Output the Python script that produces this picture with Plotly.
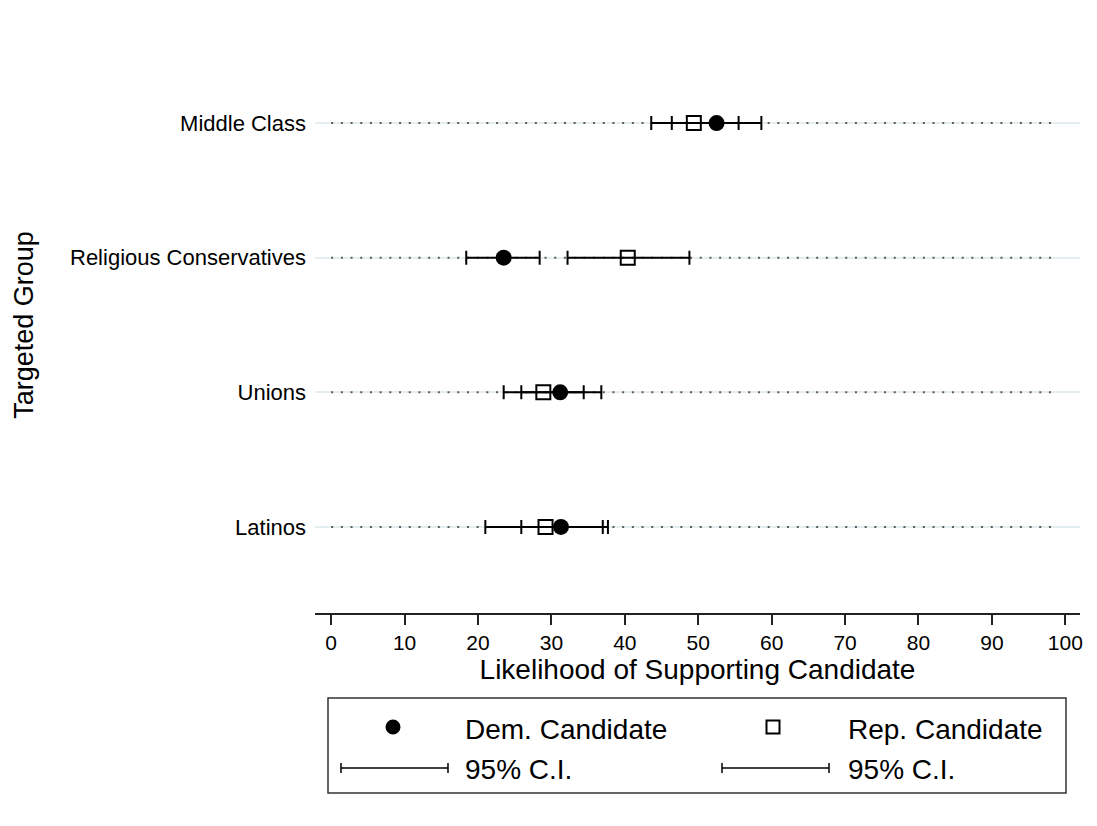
import plotly.graph_objects as go

# ---- data ----
groups = ["Middle Class", "Religious Conservatives", "Unions", "Latinos"]
group_pos = [4, 3, 2, 1]

dem = [52.5, 23.5, 31.2, 31.3]
dem_lo = [46.4, 18.4, 25.9, 25.9]
dem_hi = [58.6, 28.4, 36.8, 37.0]

rep = [49.4, 40.4, 28.9, 29.2]
rep_lo = [43.6, 32.2, 23.5, 21.0]
rep_hi = [55.5, 48.8, 34.4, 37.7]

x_ticks = list(range(0, 101, 10))
dot_span = [0, 99]

FONT = "Liberation Sans, Arial, Helvetica, sans-serif"

# page body adds an 8px offset; compensate
OFF = 8
W, H = 1097 - OFF, 826 - OFF
L, R, T, B = 315 - OFF, 17, 37 - OFF, 213
PW = W - L - R
PH = H - T - B


def px(x):
    return (x - OFF - L) / PW


def py(y):
    return (H - B - (y - OFF)) / PH


fig = go.Figure()

# dotted guide lines per group
for p in group_pos:
    fig.add_trace(go.Scatter(
        x=dot_span, y=[p, p], mode="lines",
        line=dict(color="#5a5a5a", width=2, dash="2px,7.7px"),
        hoverinfo="skip", showlegend=False))

# Rep candidate with CI
fig.add_trace(go.Scatter(
    x=rep, y=group_pos, mode="markers", name="Rep. Candidate",
    marker=dict(symbol="square-open", size=14, color="black",
                line=dict(width=2, color="black")),
    error_x=dict(type="data", symmetric=False,
                 array=[h - v for h, v in zip(rep_hi, rep)],
                 arrayminus=[v - l for v, l in zip(rep, rep_lo)],
                 color="black", thickness=2, width=7),
    showlegend=False))

# Dem candidate with CI
fig.add_trace(go.Scatter(
    x=dem, y=group_pos, mode="markers", name="Dem. Candidate",
    marker=dict(symbol="circle", size=16, color="black"),
    error_x=dict(type="data", symmetric=False,
                 array=[h - v for h, v in zip(dem_hi, dem)],
                 arrayminus=[v - l for v, l in zip(dem, dem_lo)],
                 color="black", thickness=2, width=7),
    showlegend=False))

shapes = []
annotations = []

# legend box
shapes.append(dict(type="rect", xref="paper", yref="paper",
                   x0=px(328), x1=px(1066), y0=py(793), y1=py(698),
                   line=dict(color="#333333", width=1.5), fillcolor="white"))
# dem marker
shapes.append(dict(type="circle", xref="paper", yref="paper",
                   x0=px(393 - 7.5), x1=px(393 + 7.5), y0=py(727 + 7.5), y1=py(727 - 7.5),
                   line=dict(color="black", width=0), fillcolor="black"))
# rep marker
shapes.append(dict(type="rect", xref="paper", yref="paper",
                   x0=px(773 - 6.5), x1=px(773 + 6.5), y0=py(727 + 6.5), y1=py(727 - 6.5),
                   line=dict(color="black", width=2), fillcolor="white"))
# CI keys
for x0, x1 in [(341, 448), (722, 829)]:
    shapes.append(dict(type="line", xref="paper", yref="paper",
                       x0=px(x0), x1=px(x1), y0=py(768), y1=py(768),
                       line=dict(color="black", width=1.5)))
    for xc in (x0, x1):
        shapes.append(dict(type="line", xref="paper", yref="paper",
                           x0=px(xc), x1=px(xc), y0=py(763), y1=py(773),
                           line=dict(color="black", width=1.5)))

for txt, x, y in [("Dem. Candidate", 463, 729), ("95% C.I.", 463, 769),
                  ("Rep. Candidate", 846, 729), ("95% C.I.", 846, 769)]:
    annotations.append(dict(text=txt, xref="paper", yref="paper",
                            x=px(x), y=py(y), xanchor="left", yanchor="middle",
                            showarrow=False, font=dict(size=28, color="black", family=FONT)))

fig.update_layout(
    width=W, height=H,
    margin=dict(l=L, r=R, t=T, b=B, autoexpand=False),
    plot_bgcolor="white", paper_bgcolor="white",
    font=dict(family=FONT, color="black"),
    shapes=shapes, annotations=annotations,
    showlegend=False,
    xaxis=dict(
        range=[-2.2, 102.0], tickvals=x_ticks, ticktext=[str(v) for v in x_ticks],
        showgrid=False, zeroline=False,
        showline=True, linecolor="#222222", linewidth=1.5,
        ticks="outside", ticklen=10, tickwidth=1.5, tickcolor="#222222",
        tickfont=dict(size=21),
        title=dict(text="Likelihood of Supporting Candidate", font=dict(size=28), standoff=5),
    ),
    yaxis=dict(
        range=[0.361, 4.639], tickvals=group_pos, ticktext=groups,
        showgrid=True, gridcolor="#e4eef0", gridwidth=2,
        zeroline=False, showline=False, ticks="",
        ticklabelstandoff=8,
        tickfont=dict(size=22),
        title=dict(text="Targeted Group", font=dict(size=27), standoff=28),
    ),
)

fig.write_html("out.html")
